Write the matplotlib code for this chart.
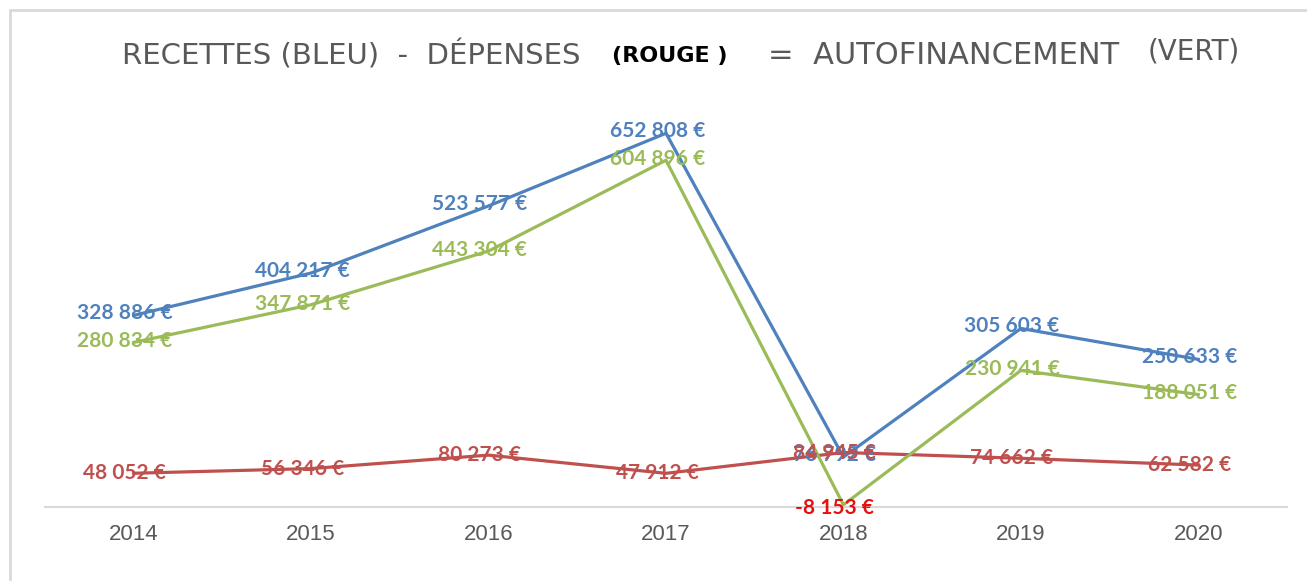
import matplotlib
matplotlib.use('Agg')
from matplotlib import pyplot as plt
from matplotlib.patches import Rectangle

# donnees
annees = ['2014', '2015', '2016', '2017', '2018', '2019', '2020']
recettes = [328886, 404217, 523577, 652808, 76792, 305603, 250633]
depenses = [48052, 56346, 80273, 47912, 84945, 74662, 62582]
autofinancement = [280834, 347871, 443304, 604896, -8153, 230941, 188051]

bleu = '#4F81BD'
rouge = '#C0504D'
vert = '#9BBB59'


def euro(v):
    s = '{:,}'.format(abs(v)).replace(',', ' ')
    return ('-' if v < 0 else '') + s + ' €'


fig = plt.figure(figsize=(13.07, 5.81), dpi=100)
ax = fig.add_axes([45 / 1307, 1 - 507 / 581, 1242 / 1307, 407 / 581])

x = list(range(len(annees)))
ax.plot(x, recettes, color=bleu, lw=2.3, zorder=2)
ax.plot(x, depenses, color=rouge, lw=2.3, zorder=2)
ax.plot(x, autofinancement, color=vert, lw=2.3, zorder=2)

lab = dict(ha='center', va='center', fontsize=15, fontweight='bold',
           family=['Lato', 'DejaVu Sans'], zorder=3)
for i in x:
    ax.text(i - 0.05, recettes[i] + 4000, euro(recettes[i]), color=bleu, **lab)
    ax.text(i - 0.05, depenses[i], euro(depenses[i]), color=rouge, **lab)
    if autofinancement[i] < 0:
        ax.text(i - 0.05, autofinancement[i] - 5000, euro(autofinancement[i]),
                color='#E8100F', **lab)
    else:
        ax.text(i - 0.05, autofinancement[i] + 2000, euro(autofinancement[i]),
                color=vert, **lab)

ax.set_xlim(-0.5, 6.5)
ax.set_ylim(-12000, 712000)
ax.set_xticks(x)
ax.set_xticklabels(annees, fontsize=16, color='#595959',
                   family=['Liberation Sans', 'DejaVu Sans'])
ax.tick_params(axis='x', length=0, pad=12)
ax.set_yticks([])
for s in ['top', 'right', 'left']:
    ax.spines[s].set_visible(False)
ax.spines['bottom'].set_color('#D9D9D9')
ax.spines['bottom'].set_linewidth(1.5)

# cadre gris
fig.patches.append(Rectangle((10 / 1307, -0.1), 1.2, 1.1 - 10 / 581,
                             transform=fig.transFigure, fill=False,
                             edgecolor='#D9D9D9', lw=2))

# titre
tf = ['DejaVu Sans']
yt = 1 - 55 / 581
fig.text(122 / 1307, yt, 'RECETTES (BLEU)  -  DÉPENSES', fontsize=21,
         color='#595959', family=tf, va='center', ha='left')
fig.text(612 / 1307, yt - 0.002, '(ROUGE )', fontsize=16, fontweight='bold',
         color='black', family=tf, va='center', ha='left')
fig.text(768 / 1307, yt, '=  AUTOFINANCEMENT', fontsize=22,
         color='#595959', family=tf, va='center', ha='left')
fig.text(1148 / 1307, yt + 0.006, '(VERT)', fontsize=20,
         color='#595959', family=tf, va='center', ha='left')

plt.savefig('out.png', dpi=100)
